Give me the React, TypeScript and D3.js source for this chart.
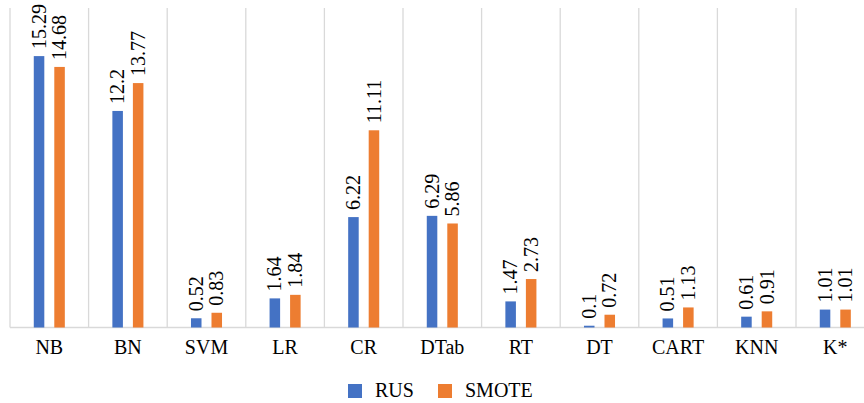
import React from 'react';
import * as d3 from 'd3';

const categories = ['NB', 'BN', 'SVM', 'LR', 'CR', 'DTab', 'RT', 'DT', 'CART', 'KNN', 'K*'];
const rusValues = [15.29, 12.2, 0.52, 1.64, 6.22, 6.29, 1.47, 0.1, 0.51, 0.61, 1.01];
const smoteValues = [14.68, 13.77, 0.83, 1.84, 11.11, 5.86, 2.73, 0.72, 1.13, 0.91, 1.01];
const seriesNames = ['RUS', 'SMOTE'];
const seriesColors = ['#4472C4', '#ED7D31'];

const width = 864;
const height = 403;
const font = "'Liberation Serif', 'DejaVu Serif', serif";

const App: React.FC = () => {
  // plot area runs past the right edge, like the original cropped export
  const x = d3.scaleBand<string>().domain(categories).range([10, 874.6]).paddingInner(0).paddingOuter(0);
  const y = d3.scaleLinear().domain([0, 18]).range([327.5, 8]);
  const bw = x.bandwidth();
  const barW = bw * 0.134;
  const gap = bw * 0.127;

  const series = [rusValues, smoteValues];
  const textStyle = { fontFamily: font };

  return (
    <svg
      width={width}
      height={height}
      style={{ position: 'absolute', left: 0, top: 0, background: '#fff', display: 'block', fontFamily: font }}
    >
      {/* vertical category separators */}
      {d3.range(categories.length + 1).map((i) => {
        const gx = 10 + i * bw;
        return <line key={i} x1={gx} x2={gx} y1={y(18)} y2={y(0)} stroke="#d9d9d9" strokeWidth={1.3} />;
      })}
      <line x1={10} x2={874.6} y1={y(0)} y2={y(0)} stroke="#d9d9d9" strokeWidth={1.5} />

      {categories.map((c, i) => {
        const cx = (x(c) as number) + bw / 2;
        return (
          <g key={c}>
            {series.map((vals, s) => {
              const bx = s === 0 ? cx - gap / 2 - barW : cx + gap / 2;
              const v = vals[i];
              const center = bx + barW / 2;
              const top = y(v);
              return (
                <g key={s}>
                  <rect x={bx} y={top} width={barW} height={y(0) - top} fill={seriesColors[s]} />
                  <text
                    transform={`translate(${center},${top - 7}) rotate(-90)`}
                    dy="0.33em"
                    fontSize={20}
                    fill="#000"
                    style={textStyle}
                  >
                    {v}
                  </text>
                </g>
              );
            })}
            <text x={cx} y={354} textAnchor="middle" fontSize={20} fill="#000" style={textStyle}>
              {c}
            </text>
          </g>
        );
      })}

      {/* legend */}
      {seriesNames.map((name, s) => {
        const lx = s === 0 ? 348 : 438;
        return (
          <g key={name}>
            <rect x={lx} y={384} width={14} height={14} fill={seriesColors[s]} />
            <text x={lx + 27} y={397} fontSize={20} fill="#000" style={textStyle}>
              {name}
            </text>
          </g>
        );
      })}
    </svg>
  );
};

export default App;
